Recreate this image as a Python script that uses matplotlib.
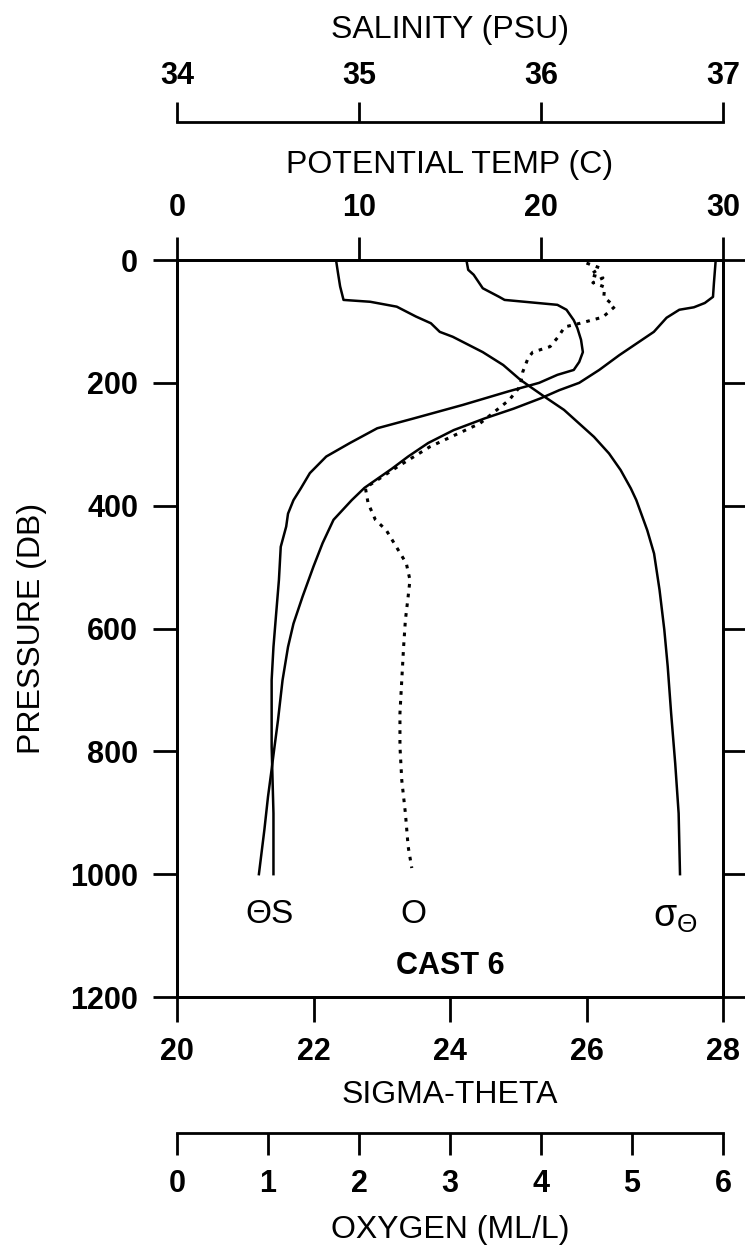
import numpy as np
import matplotlib
matplotlib.use('Agg')
import matplotlib.pyplot as plt

# ---- data ----
temp_p = [0, 38, 60, 70, 77, 81, 94, 117, 133, 155, 179, 200, 212, 225, 242, 258, 277, 298,
          320, 340, 371, 391, 423, 461, 499, 548, 592, 630, 684, 749, 792, 836, 874, 928, 1000]
temp_c = [29.6, 29.5, 29.45, 29.0, 28.4, 27.6, 26.9, 26.2, 25.4, 24.3, 23.2, 22.1, 21.0, 20.0,
          18.5, 16.9, 15.2, 13.8, 12.7, 11.8, 10.3, 9.6, 8.6, 8.0, 7.5, 6.9, 6.4, 6.1, 5.8, 5.55,
          5.36, 5.17, 5.0, 4.8, 4.5]

sal_p = [0, 16, 24, 46, 60, 65, 73, 81, 98, 111, 130, 150, 166, 179, 187, 200, 214, 236, 258,
         274, 298, 320, 347, 372, 391, 413, 434, 467, 521, 575, 630, 684, 792, 901, 1000]
sal_psu = [35.59, 35.60, 35.63, 35.68, 35.77, 35.80, 36.09, 36.14, 36.18, 36.20, 36.22, 36.23,
           36.21, 36.18, 36.09, 35.99, 35.82, 35.57, 35.30, 35.10, 34.95, 34.82, 34.73, 34.68,
           34.64, 34.61, 34.60, 34.57, 34.56, 34.545, 34.53, 34.52, 34.52, 34.53, 34.53]

sig_p = [0, 22, 43, 65, 68, 76, 92, 103, 117, 125, 150, 171, 195, 206, 223, 244, 266, 288,
         315, 342, 372, 391, 440, 478, 537, 602, 662, 738, 820, 901, 1000]
sig_theta = [22.33, 22.36, 22.39, 22.44, 22.83, 23.22, 23.5, 23.72, 23.85, 24.04, 24.48, 24.78,
             25.03, 25.17, 25.39, 25.67, 25.89, 26.11, 26.33, 26.5, 26.65, 26.73, 26.89, 26.99,
             27.07, 27.14, 27.19, 27.24, 27.30, 27.35, 27.37]

oxy_p = [5, 13, 24, 29, 37, 44, 60, 76, 93, 103, 109, 125, 141, 150, 159, 182, 206, 228,
         266, 304, 337, 371, 396, 423, 440, 467, 494, 521, 548, 586, 630, 684, 738, 792, 847,
         901, 955, 990]
oxy_ml = [4.50, 4.65, 4.54, 4.68, 4.57, 4.70, 4.69, 4.81, 4.68, 4.43, 4.26, 4.19, 4.10, 3.91,
          3.86, 3.80, 3.77, 3.65, 3.33, 2.78, 2.42, 2.07, 2.10, 2.18, 2.30, 2.41, 2.52, 2.56,
          2.54, 2.51, 2.49, 2.47, 2.45, 2.45, 2.47, 2.51, 2.54, 2.58]

p_ticks = [0, 200, 400, 600, 800, 1000, 1200]
t_ticks = [0, 10, 20, 30]
s_ticks = [34, 35, 36, 37]
sig_ticks = [20, 22, 24, 26, 28]
o_ticks = [0, 1, 2, 3, 4, 5, 6]

plt.rcParams['font.family'] = ['Liberation Sans', 'DejaVu Sans']
plt.rcParams['font.weight'] = 'bold'

W, H = 745, 1252
L, R, T, B = 177, 723, 260, 997   # pixel box of the plot frame

fig = plt.figure(figsize=(W / 100, H / 100), dpi=100)
ax = fig.add_axes([L / W, 1 - B / H, (R - L) / W, (B - T) / H])

lw_ax = 2.0
tick_fs = 22
title_fs = 23

# sigma-theta on the main (bottom) axis
ax.set_xlim(20, 28)
ax.set_ylim(1200, 0)
ax.set_xticks(sig_ticks)
ax.set_yticks(p_ticks)
ax.tick_params(axis='x', direction='out', length=18, width=lw_ax, pad=11, labelsize=tick_fs)
ax.tick_params(axis='y', direction='out', length=17, width=lw_ax, pad=11, labelsize=tick_fs,
               right=True)
for s in ax.spines.values():
    s.set_linewidth(lw_ax)

# potential temperature on top
ax_t = ax.twiny()
ax_t.set_xlim(0, 30)
ax_t.set_xticks(t_ticks)
ax_t.tick_params(axis='x', direction='out', length=16.5, width=lw_ax, pad=10, labelsize=tick_fs)
for s in ax_t.spines.values():
    s.set_linewidth(lw_ax)

# salinity: detached axis line above
ax_s = ax.twiny()
ax_s.set_xlim(34, 37)
ax_s.set_xticks(s_ticks)
ax_s.spines['top'].set_position(('axes', (B - 122) / (B - T)))
for k in ['bottom', 'left', 'right']:
    ax_s.spines[k].set_visible(False)
ax_s.spines['top'].set_linewidth(lw_ax)
ax_s.tick_params(axis='x', direction='out', length=14.4, width=lw_ax, pad=8, labelsize=tick_fs)

# oxygen: detached axis line below
ax_o = ax.twiny()
ax_o.set_xlim(0, 6)
ax_o.set_xticks(o_ticks)
ax_o.xaxis.set_ticks_position('bottom')
ax_o.xaxis.set_label_position('bottom')
ax_o.spines['bottom'].set_position(('axes', -(1133 - B) / (B - T)))
ax_o.spines['bottom'].set_visible(True)
for k in ['top', 'left', 'right']:
    ax_o.spines[k].set_visible(False)
ax_o.spines['bottom'].set_linewidth(lw_ax)
ax_o.tick_params(axis='x', direction='out', length=16, width=lw_ax, pad=10, labelsize=tick_fs)

# profiles
ax.plot(sig_theta, sig_p, color='black', lw=1.8)
ax_t.plot(temp_c, temp_p, color='black', lw=1.8)
ax_s.plot(sal_psu, sal_p, color='black', lw=1.8)
ax_o.plot(oxy_ml, oxy_p, color='black', lw=2.2, linestyle=(0, (1.2, 2.0)))
ax_o.set_ylim(1200, 0)
ax_s.set_ylim(1200, 0)
ax_t.set_ylim(1200, 0)

# curve labels
ax_t.text(5.1, 1065, 'ΘS', ha='center', va='center', fontsize=24, fontweight='normal')
ax_o.text(2.6, 1065, 'O', ha='center', va='center', fontsize=24, fontweight='normal')
ax.text(27.3, 1070, r'$\mathregular{\sigma_{\Theta}}$', ha='center', va='center',
        fontsize=27, fontweight='normal')
ax.text(24, 1150, 'CAST 6', ha='center', va='center', fontsize=22)

# axis titles
xc = (L + R) / 2 / W
fig.text(xc, 1 - 30 / H, 'SALINITY (PSU)', ha='center', va='center', fontsize=title_fs,
         fontweight='normal')
fig.text(xc, 1 - 165 / H, 'POTENTIAL TEMP (C)', ha='center', va='center', fontsize=title_fs,
         fontweight='normal')
fig.text(xc, 1 - 1095 / H, 'SIGMA-THETA', ha='center', va='center', fontsize=title_fs,
         fontweight='normal')
fig.text(xc, 1 - 1230 / H, 'OXYGEN (ML/L)', ha='center', va='center', fontsize=title_fs,
         fontweight='normal')
fig.text(32 / W, 1 - (T + B) / 2 / H, 'PRESSURE (DB)', ha='center', va='center',
         rotation=90, fontsize=title_fs, fontweight='normal')

fig.savefig('out.png', dpi=100)
